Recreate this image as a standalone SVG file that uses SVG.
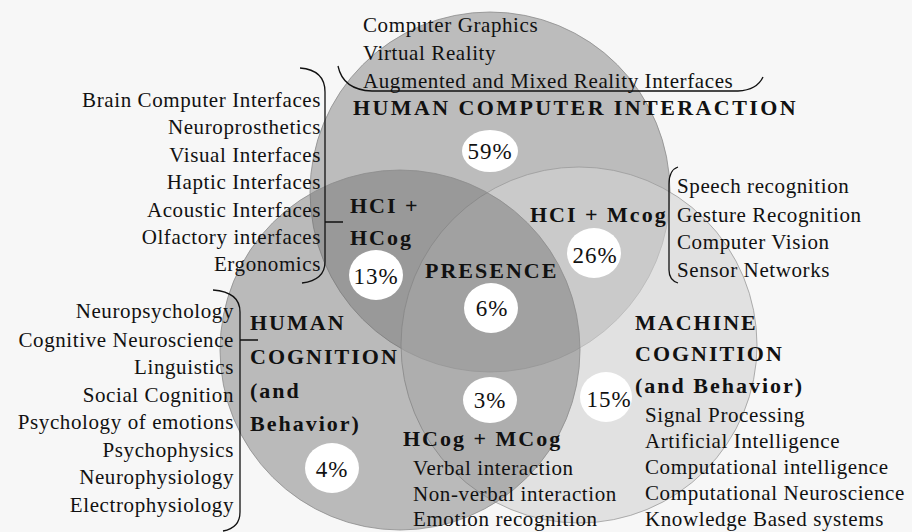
<svg xmlns="http://www.w3.org/2000/svg" width="912" height="532" viewBox="0 0 912 532">
<style>
.t{font-family:"Liberation Serif","Times New Roman",serif;font-size:21px;letter-spacing:0.6px;fill:#111}
.b{font-family:"Liberation Serif","Times New Roman",serif;font-size:22px;font-weight:bold;letter-spacing:2px;fill:#111}
.p{font-family:"Liberation Serif","Times New Roman",serif;font-size:23px;letter-spacing:1px;fill:#111;text-anchor:middle}
.r{text-anchor:end}
.pe{fill:#ffffff}
.br{fill:none;stroke:#111;stroke-width:1.3}
</style>
<rect x="0" y="0" width="912" height="532" fill="#f7f7f7"/>
<g id="hci-circle"><circle cx="490" cy="192" r="180" fill="#bcbcbc" stroke="#8c8c8c" stroke-width="0.8"/></g>
<g id="mcog-circle"><circle cx="579" cy="345" r="178" fill="#d4d4d4" fill-opacity="0.62" stroke="#9a9a9a" stroke-width="0.8"/></g>
<g id="hcog-circle"><circle cx="400" cy="350" r="180" fill="#6b6b6b" fill-opacity="0.433" stroke="#8c8c8c" stroke-width="0.8"/></g>

<g id="connectors">
<path class="br" d="M338,66 Q343,90 372,91 L738,91 Q757,90 763,77" stroke="#444" stroke-width="1"/>
<path class="br" d="M300,68 Q325,70 325,92 L325,262 Q325,280 302,283 M325,222 L343,222"/>
<path class="br" d="M213,290 Q240,292 240,312 L240,512 Q240,528 223,531 M240,340 L258,340"/>
<path class="br" d="M678,167 Q669,170 669,184 L669,270 Q669,280 678,283" stroke="#666" stroke-width="1"/>
</g>

<g id="hci">
<text class="t" x="363" y="32">Computer Graphics</text>
<text class="t" x="363" y="60">Virtual Reality</text>
<text class="t" x="363" y="88">Augmented and Mixed Reality Interfaces</text>
<text class="b" x="353" y="115" style="letter-spacing:2.4px">HUMAN COMPUTER INTERACTION</text>
<ellipse class="pe" cx="490" cy="151" rx="28" ry="21"/>
<text class="p" x="490" y="159">59%</text>
</g>

<g id="hci-hcog">
<text class="t r" x="321" y="107">Brain Computer Interfaces</text>
<text class="t r" x="321" y="134">Neuroprosthetics</text>
<text class="t r" x="321" y="162">Visual Interfaces</text>
<text class="t r" x="321" y="189">Haptic Interfaces</text>
<text class="t r" x="321" y="217">Acoustic Interfaces</text>
<text class="t r" x="321" y="244">Olfactory interfaces</text>
<text class="t r" x="321" y="271">Ergonomics</text>
<text class="b" x="350" y="213">HCI +</text>
<text class="b" x="350" y="245">HCog</text>
<ellipse class="pe" cx="376" cy="275" rx="27" ry="25"/>
<text class="p" x="376" y="284">13%</text>
</g>

<g id="presence">
<text class="b" x="425" y="278">PRESENCE</text>
<ellipse class="pe" cx="491" cy="308" rx="27" ry="25"/>
<text class="p" x="492" y="316">6%</text>
</g>

<g id="hci-mcog">
<text class="b" x="530" y="222">HCI + Mcog</text>
<ellipse class="pe" cx="594" cy="253" rx="27" ry="25"/>
<text class="p" x="595" y="263">26%</text>
<text class="t" x="677" y="193">Speech recognition</text>
<text class="t" x="677" y="222">Gesture Recognition</text>
<text class="t" x="677" y="249">Computer Vision</text>
<text class="t" x="677" y="277">Sensor Networks</text>
</g>

<g id="hcog">
<text class="t r" x="234" y="318">Neuropsychology</text>
<text class="t r" x="234" y="347">Cognitive Neuroscience</text>
<text class="t r" x="234" y="374">Linguistics</text>
<text class="t r" x="234" y="402">Social Cognition</text>
<text class="t r" x="234" y="429">Psychology of emotions</text>
<text class="t r" x="234" y="457">Psychophysics</text>
<text class="t r" x="234" y="484">Neurophysiology</text>
<text class="t r" x="234" y="512">Electrophysiology</text>
<text class="b" x="250" y="330">HUMAN</text>
<text class="b" x="250" y="364">COGNITION</text>
<text class="b" x="250" y="398">(and</text>
<text class="b" x="250" y="431">Behavior)</text>
<ellipse class="pe" cx="332" cy="468" rx="27" ry="25"/>
<text class="p" x="332" y="477">4%</text>
</g>

<g id="hcog-mcog">
<ellipse class="pe" cx="490" cy="400" rx="27" ry="23"/>
<text class="p" x="490" y="408">3%</text>
<text class="b" x="403" y="446">HCog + MCog</text>
<text class="t" x="413" y="475">Verbal interaction</text>
<text class="t" x="413" y="501">Non-verbal interaction</text>
<text class="t" x="413" y="526">Emotion recognition</text>
</g>

<g id="mcog">
<text class="b" x="635" y="330">MACHINE</text>
<text class="b" x="635" y="361">COGNITION</text>
<text class="b" x="635" y="393">(and Behavior)</text>
<ellipse class="pe" cx="606" cy="397" rx="26" ry="25"/>
<text class="p" x="609" y="407">15%</text>
<text class="t" x="645" y="422">Signal Processing</text>
<text class="t" x="645" y="448">Artificial Intelligence</text>
<text class="t" x="645" y="474">Computational intelligence</text>
<text class="t" x="645" y="500">Computational Neuroscience</text>
<text class="t" x="645" y="526">Knowledge Based systems</text>
</g>
</svg>
